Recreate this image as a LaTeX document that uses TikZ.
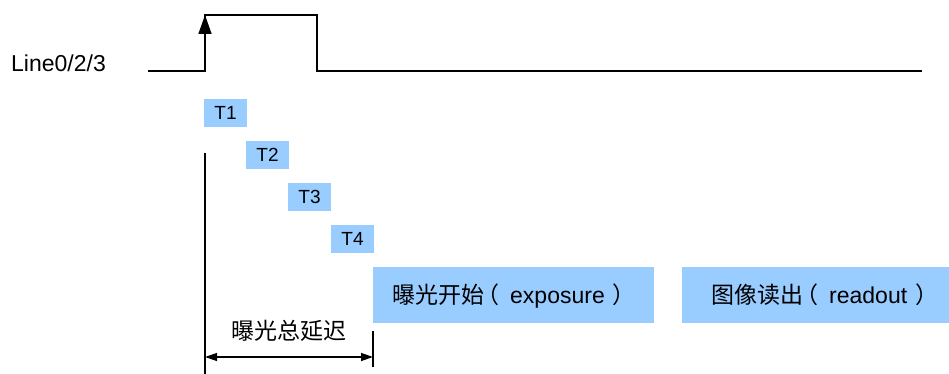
\documentclass[tikz,border=0pt]{standalone}
\usepackage{fontspec}
\setmainfont{Liberation Sans}
\newfontfamily\cjk{Noto Sans CJK SC}
\usetikzlibrary{arrows.meta}
\definecolor{boxblue}{RGB}{153,204,255}
\newcommand{\lpar}{\hspace{-8pt}{\cjk （}\hspace{11pt}}
\newcommand{\rpar}{\hspace{8pt}{\cjk ）}}
\begin{document}
\begin{tikzpicture}[x=1pt,y=-1pt,
  sig/.style={line width=1.5pt, line join=miter},
  thin/.style={line width=1.3pt},
  tbox/.style={fill=boxblue, inner sep=0pt, minimum width=43pt, minimum height=28pt, font=\fontsize{19}{21}\selectfont},
  bigbox/.style={fill=boxblue, inner sep=0pt, minimum height=56pt},
  bigtext/.style={inner sep=0pt, anchor=base west, font=\fontsize{23}{27}\selectfont},
  dim/.style={thin, {Triangle[width=8pt,length=12pt]}-{Triangle[width=8pt,length=12pt]}},
]
\useasboundingbox (0,0) rectangle (949,374);
\fill[white] (0,0) rectangle (949,374);
\node[anchor=west, font=\fontsize{23}{27}\selectfont, inner sep=0pt] (lbl) at (11,63) {Line0/2/3};
\coordinate (s0) at (148,71);
\coordinate (r0) at (205,71);
\coordinate (r1) at (205,15);
\coordinate (f1) at (317,15);
\coordinate (f0) at (317,71);
\coordinate (s1) at (922,71);
\draw[sig] (s0) -- (r0) -- (r1) -- (f1) -- (f0) -- (s1);
\draw[sig, -{Triangle[width=13pt,length=19pt]}] (r0) -- (r1);
\node[tbox] (t1) at (225.5,113) {T1};
\node[tbox] (t2) at (267.5,155) {T2};
\node[tbox] (t3) at (309.5,197) {T3};
\node[tbox] (t4) at (352.5,239) {T4};
\node[bigbox, minimum width=281pt] (exp) at (513.5,295) {};
\node[bigbox, minimum width=280pt] (rd) at (822,295) {};
\node[bigtext] (expt) at (392,303) {{\cjk 曝光开始}\lpar exposure\rpar};
\node[bigtext] (rdt) at (711,303) {{\cjk 图像读出}\lpar readout\rpar};
\coordinate (v0) at (205,153);
\coordinate (v1) at (205,374);
\coordinate (w0) at (373,331);
\coordinate (w1) at (373,367);
\draw[thin] (v0) -- (v1);
\draw[thin] (w0) -- (w1);
\coordinate (a0) at (205,357);
\coordinate (a1) at (373,357);
\draw[dim] (a0) -- (a1);
\node[font=\fontsize{23}{27}\selectfont\cjk, inner sep=0pt] (delay) at (289,331) {曝光总延迟};
\end{tikzpicture}
\end{document}
